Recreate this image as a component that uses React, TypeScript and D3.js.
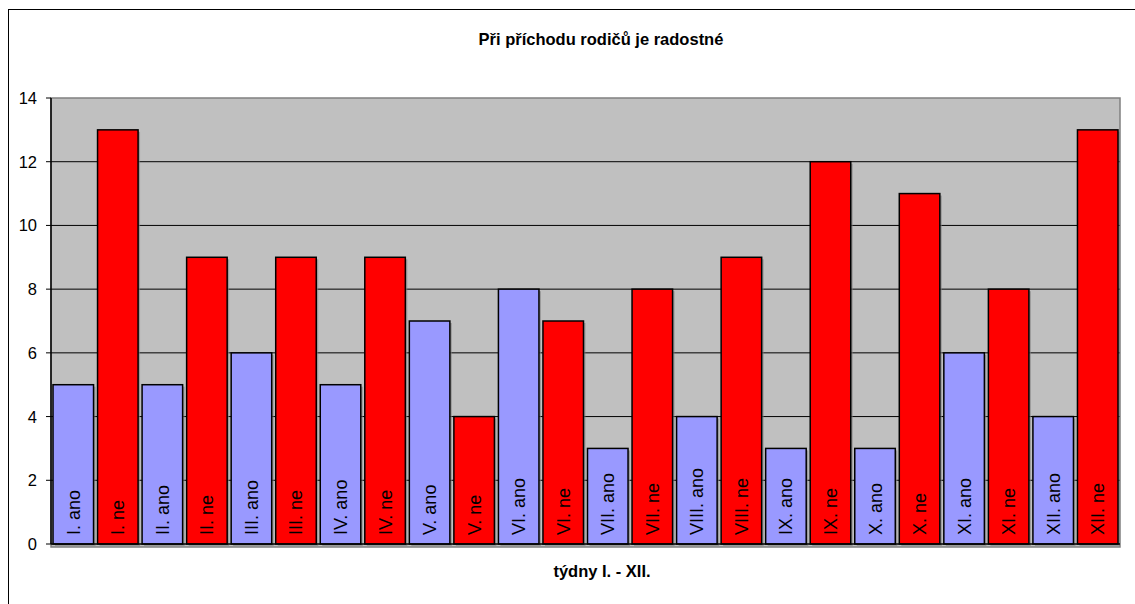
import React from "react";
import * as d3 from "d3";

const weeks = ["I.", "II.", "III.", "IV.", "V.", "VI.", "VII.", "VIII.", "IX.", "X.", "XI.", "XII."];
const anoValues = [5, 5, 6, 5, 7, 8, 3, 4, 3, 3, 6, 4];
const neValues = [13, 9, 9, 9, 4, 7, 8, 9, 12, 11, 8, 13];
const yTicks = [0, 2, 4, 6, 8, 10, 12, 14];
const title = "Při příchodu rodičů je radostné";
const xTitle = "týdny I. - XII.";

const bars = weeks.flatMap((w, i) => [
  { label: `${w} ano`, value: anoValues[i], kind: "ano" },
  { label: `${w} ne`, value: neValues[i], kind: "ne" },
]);

export default function App() {
  const W = 1135, H = 604;
  const left = 51, right = 1120, top = 98, bottom = 544;
  const x = d3.scaleBand<string>().domain(bars.map(b => b.label)).range([left, right]).paddingInner(0.09).paddingOuter(0.045);
  const y = d3.scaleLinear().domain([0, 14]).range([bottom, top]);
  const font = "Arial, 'Liberation Sans', sans-serif";
  return (
    <svg width={W} height={H} style={{ position: "absolute", left: 0, top: 0 }} fontFamily={font}>
      <rect x={0} y={0} width={W} height={H} fill="#fff" />
      <rect x={8.5} y={9.5} width={1140} height={700} fill="#fff" stroke="#000" strokeWidth={1} />
      <text x={601} y={45} textAnchor="middle" fontSize={16.5} fontWeight="bold">{title}</text>
      <rect x={left} y={top} width={right - left} height={bottom - top + 3} fill="#C0C0C0" stroke="#808080" strokeWidth={1.5} />
      {yTicks.map(t => (
        <g key={t}>
          {t > 0 && t < 14 && <line x1={left} x2={right} y1={y(t)} y2={y(t)} stroke="#000" strokeWidth={1} />}
          <line x1={left - 5} x2={left} y1={y(t)} y2={y(t)} stroke="#000" strokeWidth={1} />
          <text x={37} y={y(t)} dy="0.36em" textAnchor="end" fontSize={16.5}>{t}</text>
        </g>
      ))}
      {bars.map(b => {
        const bx = x(b.label)!;
        const bw = x.bandwidth();
        const cx = bx + bw / 2;
        return (
          <g key={b.label}>
            <rect x={bx + 2} y={y(b.value) + 2} width={bw} height={bottom - y(b.value)} fill="#808080" opacity={0.6} />
            <rect x={bx} y={y(b.value)} width={bw} height={bottom - y(b.value)}
              fill={b.kind === "ano" ? "#9999FF" : "#FF0000"} stroke="#000" strokeWidth={1.5} />
            <text transform={`translate(${cx + 6.5},${bottom - 9}) rotate(-90)`} fontSize={18}>{b.label}</text>
          </g>
        );
      })}
      <line x1={left} x2={left} y1={top} y2={bottom} stroke="#000" strokeWidth={1.5} />
      <line x1={left} x2={right} y1={bottom} y2={bottom} stroke="#000" strokeWidth={1.5} />
      <text x={602} y={577} textAnchor="middle" fontSize={16.5} fontWeight="bold">{xTitle}</text>
    </svg>
  );
}
